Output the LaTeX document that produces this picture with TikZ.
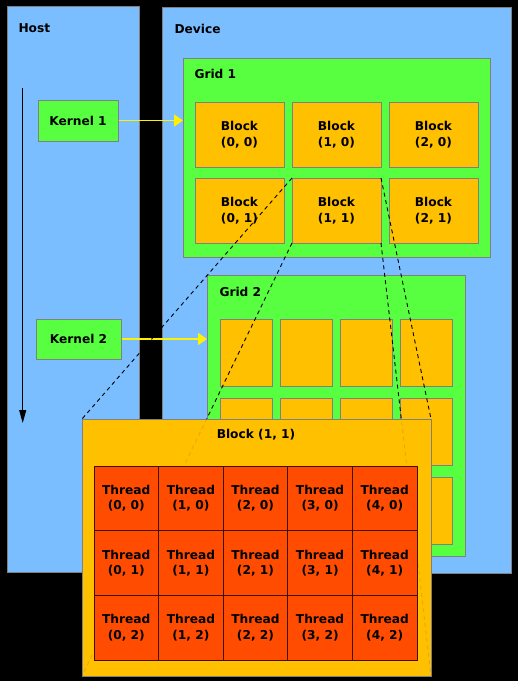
\documentclass[tikz,border=0pt]{standalone}
\usepackage{fontspec}
\setmainfont{DejaVu Sans}
\usetikzlibrary{arrows.meta,positioning}

\definecolor{hostblue}{RGB}{122,190,255}
\definecolor{gridgreen}{RGB}{88,255,64}
\definecolor{blockorange}{RGB}{255,192,0}
\definecolor{threadred}{RGB}{255,76,0}
\definecolor{threadedge}{RGB}{60,15,0}
\definecolor{edgegray}{RGB}{128,128,128}

\begin{document}
\begin{tikzpicture}[
    x = 1pt, y = -1pt, % one unit per pixel, y going down
    > = {Triangle[length=9pt,width=12pt]}, % arrow head style
    node distance = 8pt, % gap between blocks
    font = \bfseries\fontsize{12.2}{15.5}\selectfont,
    line width = 1pt % line style
    ]

    \tikzset{
    panelbox/.style = {draw = edgegray, fill = hostblue, anchor = north west,
        inner sep = 0pt, outer sep = 0pt},
    gridbox/.style = {panelbox, fill = gridgreen},
    blockbox/.style = {panelbox, fill = blockorange, align = center,
        minimum width = 89pt, minimum height = 65pt},
    smallblock/.style = {panelbox, fill = blockorange,
        minimum width = 52pt, minimum height = 67pt},
    kernelbox/.style = {draw = edgegray, fill = gridgreen, inner sep = 0pt,
        minimum width = 80pt, minimum height = 41pt},
    threadbox/.style = {draw = threadedge, fill = threadred, anchor = north west,
        inner sep = 0pt, outer sep = 0pt, align = center,
        minimum width = 64.6pt, minimum height = 64.7pt},
    titletext/.style = {anchor = base west, inner sep = 0pt},
    dashlink/.style = {dash pattern = on 4pt off 3.5pt, line width = 0.9pt, black},
    launch/.style = {->, yellow, line width = 1.6pt}
    }

    \path[use as bounding box, fill = black] (0,0) rectangle (518,681);

    \node[panelbox, minimum width = 132pt, minimum height = 566pt] (host) at (7,6) {};
    \node[panelbox, minimum width = 349pt, minimum height = 566pt] (device) at (162,7) {};
    \node[titletext] (hostname) at (18,32) {Host};
    \node[titletext] (devicename) at (174,33) {Device};

    % first grid
    \node[gridbox, minimum width = 307pt, minimum height = 199pt] (grid1) at (183,58) {};
    \node[titletext] (grid1name) at (194,78) {Grid 1};
    \node[blockbox] (b00) at (195,102) {Block\\(0, 0)};
    \node[blockbox, right=of b00] (b10) {Block\\(1, 0)};
    \node[blockbox, right=of b10] (b20) {Block\\(2, 0)};
    \node[blockbox, below=11pt of b00] (b01) {Block\\(0, 1)};
    \node[blockbox, right=of b01] (b11) {Block\\(1, 1)};
    \node[blockbox, right=of b11] (b21) {Block\\(2, 1)};

    \node[kernelbox] (kernel1) at (78,120.5) {Kernel 1};
    \node[kernelbox, minimum width = 85pt, minimum height = 40pt] (kernel2) at (78.5,339) {Kernel 2};

    % second grid
    \node[gridbox, minimum width = 258pt, minimum height = 281pt] (grid2) at (207,275) {};
    \node[titletext] (grid2name) at (219,296) {Grid 2};
    \node[smallblock] (c00) at (220,319) {};
    \node[smallblock, right=of c00] (c10) {};
    \node[smallblock, right=of c10] (c20) {};
    \node[smallblock, right=of c20] (c30) {};
    \node[smallblock, below=12pt of c00] (c01) {};
    \node[smallblock, right=of c01] (c11) {};
    \node[smallblock, right=of c11] (c21) {};
    \node[smallblock, right=of c21] (c31) {};
    \node[smallblock, below=12pt of c01] (c02) {};
    \node[smallblock, right=of c02] (c12) {};
    \node[smallblock, right=of c12] (c22) {};
    \node[smallblock, right=of c22] (c32) {};

    \draw[launch] (kernel1.east) -- (kernel1.east -| grid1.west);
    \draw[launch] (kernel2.east) -- (kernel2.east -| grid2.west);

    \coordinate (timetop) at (22.7,88);
    \coordinate (timebottom) at (22.7,423);
    \draw[-{Triangle[length=13pt,width=7pt]}] (timetop) -- (timebottom);

    \draw[dashlink] (b11.north west) -- (82,419) coordinate (bignw);
    \draw[dashlink] (b11.south west) -- (82,676) coordinate (bigsw);
    \draw[dashlink] (b11.north east) -- (431,419) coordinate (bigne);
    \draw[dashlink] (b11.south east) -- (431,676) coordinate (bigse);

    % block (1, 1) drawn large
    \node[panelbox, fill = blockorange, minimum width = 349pt, minimum height = 257pt] (bigblock) at (bignw) {};
    \begin{scope}
    \clip (bigblock.north west) rectangle (bigblock.south east);
    \draw[dashlink, opacity = 0.1] (b11.north west) -- (bigblock.north west);
    \draw[dashlink, opacity = 0.1] (b11.south west) -- (bigblock.south west);
    \draw[dashlink, opacity = 0.1] (b11.north east) -- (bigblock.north east);
    \draw[dashlink, opacity = 0.1] (b11.south east) -- (bigblock.south east);
    \end{scope}
    \node[anchor = base, inner sep = 0pt] (bigname) at (256,438) {Block (1, 1)};

    \node[threadbox] (t00) at (94,466) {Thread\\(0, 0)};
    \node[threadbox, right=0pt of t00] (t10) {Thread\\(1, 0)};
    \node[threadbox, right=0pt of t10] (t20) {Thread\\(2, 0)};
    \node[threadbox, right=0pt of t20] (t30) {Thread\\(3, 0)};
    \node[threadbox, right=0pt of t30] (t40) {Thread\\(4, 0)};
    \node[threadbox, below=0pt of t00] (t01) {Thread\\(0, 1)};
    \node[threadbox, right=0pt of t01] (t11) {Thread\\(1, 1)};
    \node[threadbox, right=0pt of t11] (t21) {Thread\\(2, 1)};
    \node[threadbox, right=0pt of t21] (t31) {Thread\\(3, 1)};
    \node[threadbox, right=0pt of t31] (t41) {Thread\\(4, 1)};
    \node[threadbox, below=0pt of t01] (t02) {Thread\\(0, 2)};
    \node[threadbox, right=0pt of t02] (t12) {Thread\\(1, 2)};
    \node[threadbox, right=0pt of t12] (t22) {Thread\\(2, 2)};
    \node[threadbox, right=0pt of t22] (t32) {Thread\\(3, 2)};
    \node[threadbox, right=0pt of t32] (t42) {Thread\\(4, 2)};
\end{tikzpicture}
\end{document}
